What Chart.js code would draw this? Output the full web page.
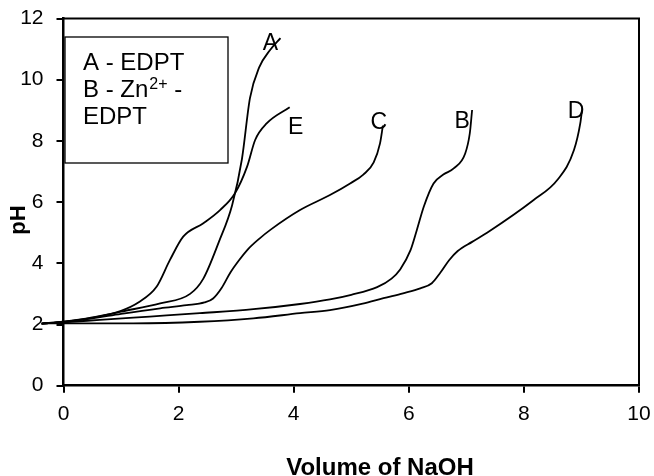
<!DOCTYPE html>
<html>
<head>
<meta charset="utf-8">
<script src="https://cdn.jsdelivr.net/npm/chart.js@4.4.0/dist/chart.umd.min.js"></script>
<style>
  html, body { margin: 0; padding: 0; background: #fff; }
  #chart { display: block; }
</style>
</head>
<body>
<canvas id="chart" width="654" height="476"></canvas>
<script>
// titration curves, pH vs volume of NaOH
var volA = [-0.38, 0, 0.5, 1.0, 1.68, 2.2, 2.43, 2.7, 2.93, 3.1, 3.24, 3.4, 3.59, 3.77];
var phA  = [2.03, 2.09, 2.22, 2.42, 2.69, 3.0, 3.5, 4.7, 5.9, 7.4, 9.4, 10.4, 10.97, 11.36];

var volB = [-0.38, 0, 0.63, 1.5, 2.37, 3.3, 4.11, 4.63, 5.0, 5.45, 5.7, 5.85, 6.03, 6.14, 6.26, 6.43, 6.6, 6.78, 6.98, 7.06, 7.1];
var phB  = [2.03, 2.07, 2.15, 2.26, 2.37, 2.5, 2.67, 2.82, 2.97, 3.22, 3.5, 3.8, 4.43, 5.09, 5.85, 6.61, 6.9, 7.1, 7.59, 8.25, 9.01];

var volC = [-0.38, 0, 0.5, 1.0, 1.68, 2.14, 2.45, 2.6, 2.75, 2.9, 3.05, 3.2, 3.4, 3.6, 4.11, 4.63, 4.98, 5.21, 5.39, 5.5, 5.55];
var phC  = [2.03, 2.08, 2.2, 2.35, 2.53, 2.63, 2.72, 2.85, 3.2, 3.7, 4.1, 4.45, 4.8, 5.1, 5.74, 6.23, 6.61, 6.9, 7.3, 7.92, 8.5];

var volD = [-0.38, 0, 1.21, 2.37, 3.3, 4.11, 4.63, 5.2, 5.56, 5.9, 6.2, 6.4, 6.55, 6.7, 6.85, 7.1, 7.36, 8.17, 8.58, 8.87, 8.98, 9.01];
var phD  = [2.03, 2.04, 2.04, 2.09, 2.2, 2.37, 2.47, 2.68, 2.86, 3.02, 3.18, 3.35, 3.7, 4.1, 4.4, 4.7, 5.0, 6.07, 6.72, 7.7, 8.58, 9.01];

var volE = [-0.38, 0, 0.5, 1.0, 1.3, 1.62, 1.85, 2.08, 2.43, 2.72, 2.98, 3.19, 3.33, 3.53, 3.93];
var phE  = [2.03, 2.09, 2.23, 2.45, 2.72, 3.24, 4.11, 4.87, 5.31, 5.74, 6.29, 7.16, 8.03, 8.57, 9.1];

var curveNames = ['A', 'B', 'C', 'D', 'E'];
var legendLines = ['A - EDPT', 'B - Zn', 'EDPT'];
var xTicks = [0, 2, 4, 6, 8, 10];
var yTicks = [0, 2, 4, 6, 8, 10, 12];

var FONT = '"Liberation Sans", Arial, sans-serif';

function pts(xs, ys) {
    return xs.map(function (x, i) { return { x: x, y: ys[i] }; });
}

function curve(label, xs, ys) {
    return {
        label: label,
        data: pts(xs, ys),
        borderColor: '#000',
        borderWidth: 1.8,
        pointRadius: 0,
        fill: false,
        cubicInterpolationMode: 'monotone',
        clip: false
    };
}

// where each curve letter sits relative to the curve's last point (px)
var labelOffset = {
    A: [-10, 6],
    B: [-10, 12],
    C: [-4, -3],
    D: [-6, 2],
    E: [6, 20]
};

var extras = {
    id: 'extras',
    afterDraw: function (chart) {
        var c = chart.ctx;
        var area = chart.chartArea;
        c.save();

        // top and right frame
        c.strokeStyle = '#000';
        c.lineWidth = 2;
        c.beginPath();
        c.moveTo(area.left, area.top);
        c.lineTo(area.right, area.top);
        c.lineTo(area.right, area.bottom);
        c.stroke();

        // curve letters
        c.fillStyle = '#000';
        c.font = '23px ' + FONT;
        c.textAlign = 'center';
        c.textBaseline = 'middle';
        chart.data.datasets.forEach(function (ds, i) {
            var meta = chart.getDatasetMeta(i);
            var last = meta.data[meta.data.length - 1];
            var off = labelOffset[ds.label];
            c.fillText(ds.label, last.x + off[0], last.y + off[1]);
        });

        // legend box
        c.lineWidth = 1.3;
        c.strokeRect(65, 37, 163, 126);
        c.textAlign = 'left';
        c.textBaseline = 'alphabetic';
        c.font = '24px ' + FONT;
        c.fillText(legendLines[0], 83, 70);
        c.fillText(legendLines[1], 83, 97);
        var w = c.measureText(legendLines[1]).width;
        c.font = '16px ' + FONT;
        c.fillText('2+', 83 + w + 1, 89);
        var w2 = c.measureText('2+').width;
        c.font = '24px ' + FONT;
        c.fillText(' -', 83 + w + 1 + w2, 97);
        c.fillText(legendLines[2], 83, 124);

        // axis titles
        c.font = 'bold 24px ' + FONT;
        c.textAlign = 'center';
        c.fillText('Volume of NaOH', 380, 475);
        c.translate(19, 220);
        c.rotate(-Math.PI / 2);
        c.textBaseline = 'middle';
        c.font = 'bold 22px ' + FONT;
        c.fillText('pH', 0, 0);
        c.restore();
    }
};

var ctx = document.getElementById('chart').getContext('2d');
var chart = new Chart(ctx, {
    type: 'line',
    data: {
        datasets: [
            curve('A', volA, phA),
            curve('B', volB, phB),
            curve('C', volC, phC),
            curve('D', volD, phD),
            curve('E', volE, phE)
        ]
    },
    options: {
        responsive: false,
        animation: false,
        devicePixelRatio: 1,
        layout: { padding: { left: 0, top: 18.5, right: 15, bottom: 0 } },
        plugins: {
            legend: { display: false },
            tooltip: { enabled: false }
        },
        scales: {
            x: {
                type: 'linear',
                min: 0,
                max: 10,
                afterBuildTicks: function (s) { s.ticks = xTicks.map(function (v) { return { value: v }; }); },
                afterFit: function (s) {
                    s.height = 90.3;
                    s.paddingLeft = 0;
                    s.paddingRight = 0;
                },
                ticks: { color: '#000', font: { size: 21, family: FONT }, padding: 9, maxRotation: 0 },
                grid: { drawOnChartArea: false, drawTicks: true, tickLength: 7, color: '#000', lineWidth: 2 },
                border: { display: true, color: '#000', width: 2.5 }
            },
            y: {
                min: 0,
                max: 12,
                afterBuildTicks: function (s) { s.ticks = yTicks.map(function (v) { return { value: v }; }); },
                afterFit: function (s) {
                    s.width = 63.5;
                    s.paddingTop = 0;
                    s.paddingBottom = 0;
                },
                ticks: { color: '#000', font: { size: 21, family: FONT }, padding: 13 },
                grid: { drawOnChartArea: false, drawTicks: true, tickLength: 7, color: '#000', lineWidth: 2 },
                border: { display: true, color: '#000', width: 2.5 }
            }
        }
    },
    plugins: [extras]
});
</script>
</body>
</html>
